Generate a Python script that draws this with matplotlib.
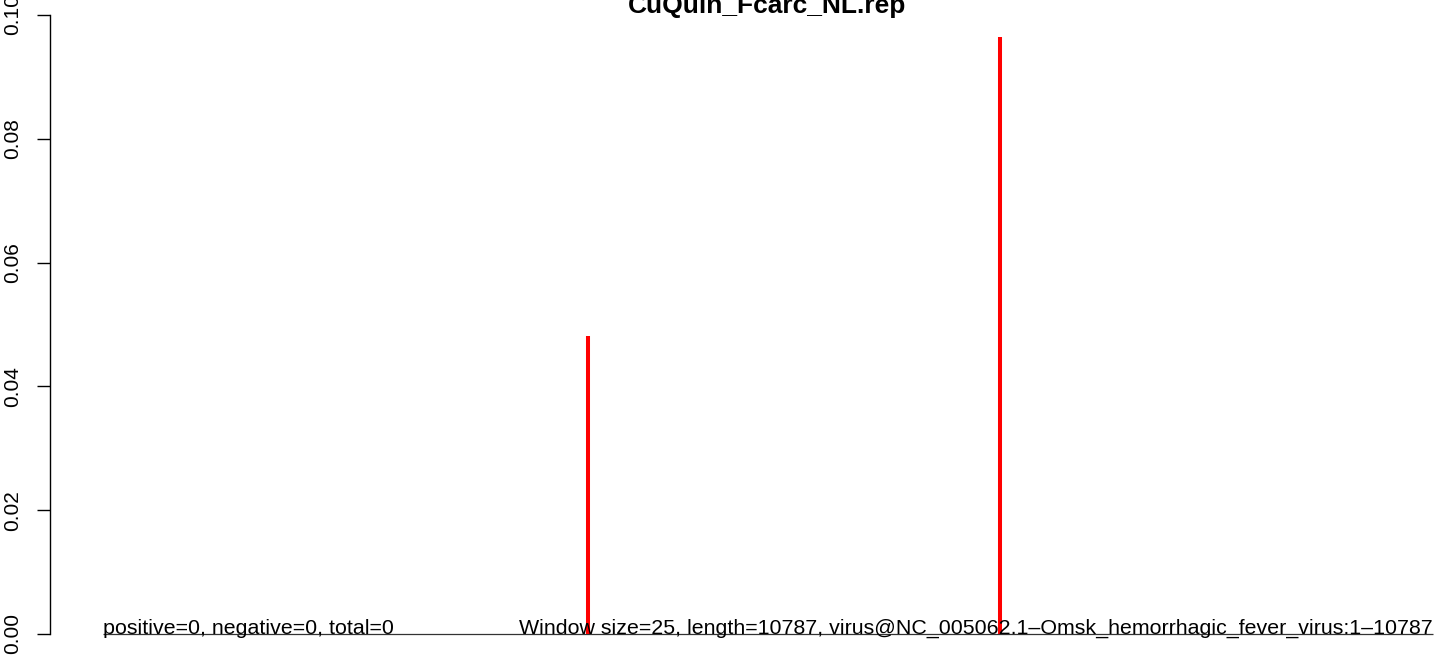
import matplotlib
matplotlib.use("Agg")
import matplotlib.pyplot as plt

title = "CuQuin_Fcarc_NL.rep"
seq_start = 1
seq_length = 10787
hit_positions = [3933, 7275]
hit_values = [0.0481, 0.0965]
y_ticks = [0.00, 0.02, 0.04, 0.06, 0.08, 0.10]
y_tick_labels = ["0.00", "0.02", "0.04", "0.06", "0.08", "0.10"]
left_note = "positive=0, negative=0, total=0"
right_note = "Window size=25, length=10787, virus@NC_005062.1\u2013Omsk_hemorrhagic_fever_virus:1\u201310787"

plt.rcParams['font.family'] = ['Liberation Sans', 'DejaVu Sans']

W, H = 1444, 656
fig = plt.figure(figsize=(W / 100, H / 100), dpi=100)
ax_left_px, ax_right_px = 50, 1444
ax_top_px, ax_bot_px = 15, 634
ax = fig.add_axes([ax_left_px / W, (H - ax_bot_px) / H,
                   (ax_right_px - ax_left_px) / W, (ax_bot_px - ax_top_px) / H])

# x mapping: seq_start at px 103, seq_length at px 1432.7
px_per_unit = (1432.7 - 103) / (seq_length - seq_start)
xmin = seq_start - (103 - ax_left_px) / px_per_unit
xmax = seq_length + (ax_right_px - 1432.7) / px_per_unit
ax.set_xlim(xmin, xmax)
ax.set_ylim(0, 0.1)

ax.hlines(0, seq_start, seq_length, color="#333333", lw=0.9, clip_on=False, zorder=2)
ax.vlines(hit_positions, 0, hit_values, color="red", lw=2.9, clip_on=False, zorder=3)

ax.text(seq_start, 0, left_note, ha="left", va="baseline", fontsize=15.4, color="black")
ax.text(seq_length, 0, right_note, ha="right", va="baseline", fontsize=15.4, color="black")

for s in ["top", "right", "bottom"]:
    ax.spines[s].set_visible(False)
ax.spines["left"].set_bounds(0, 0.1)
ax.spines["left"].set_linewidth(1.0)
ax.set_xticks([])
ax.set_yticks(y_ticks)
ax.set_yticklabels(y_tick_labels, rotation=90, va="center", fontsize=15)
ax.tick_params(axis="y", length=9.4, width=1.0, pad=11)

fig.text(767 / W, 1 - 13 / H, title, ha="center", va="baseline",
         fontsize=19, fontweight="bold")

fig.savefig("out.png", dpi=100)
